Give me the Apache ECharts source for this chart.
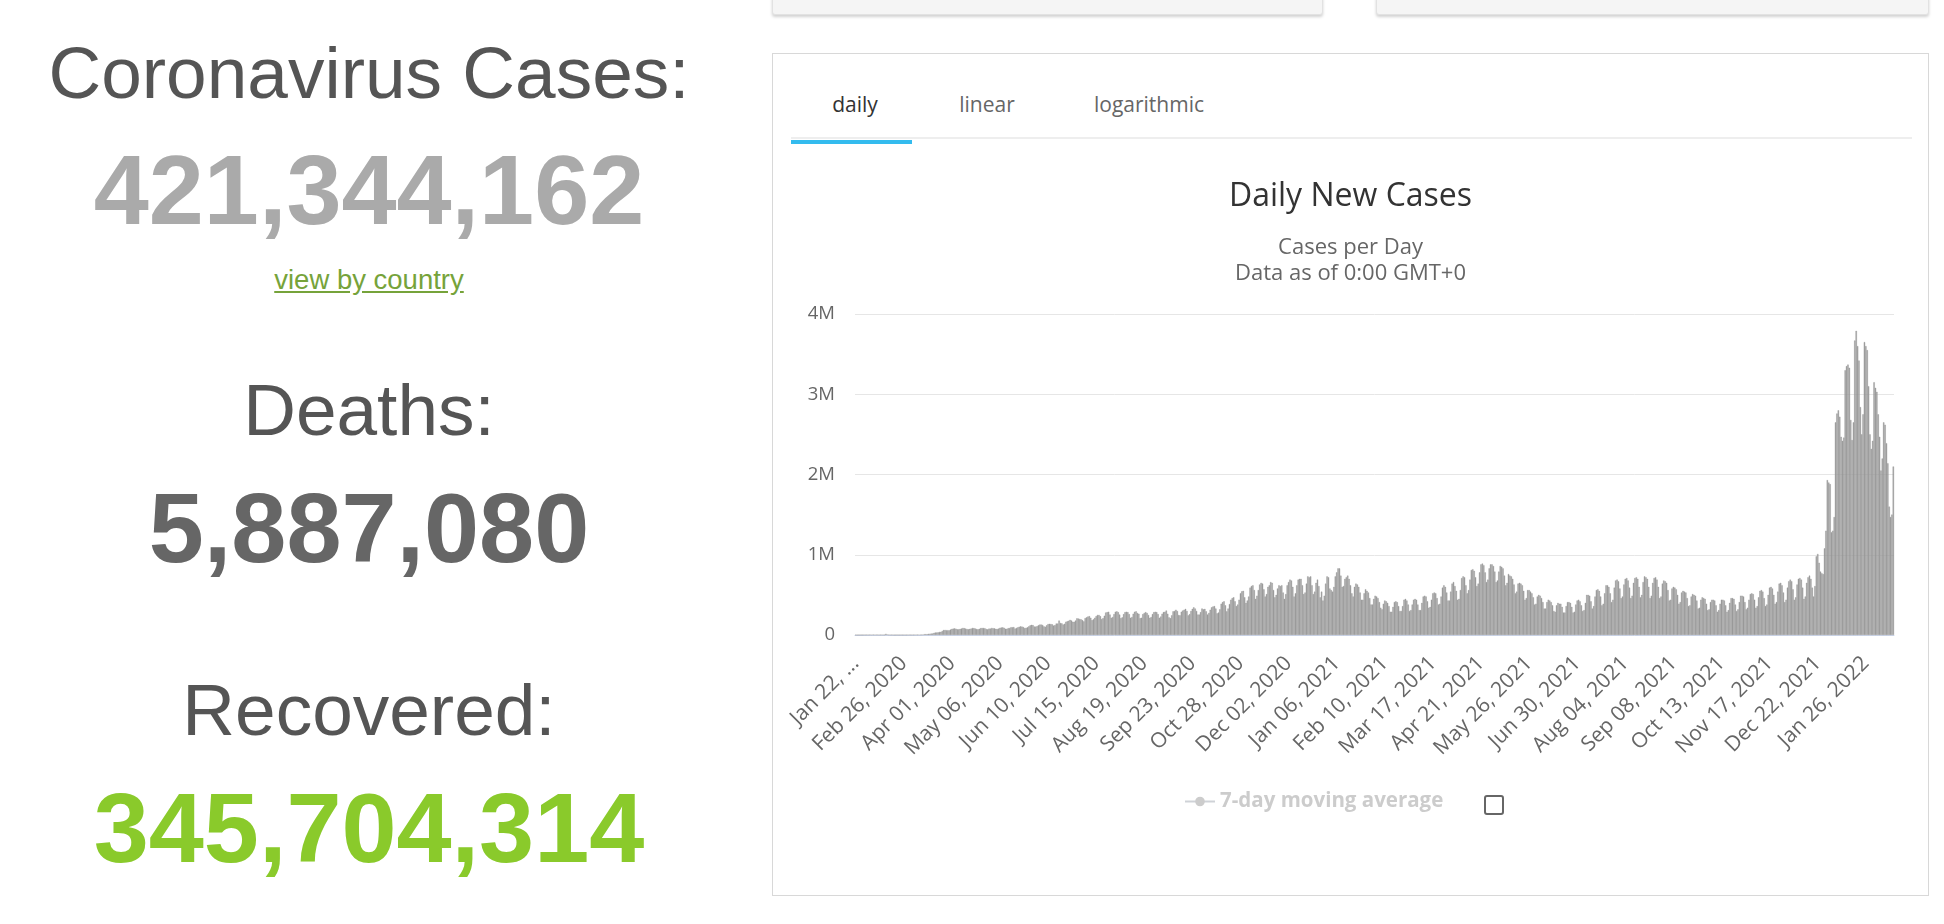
<!DOCTYPE html>
<html>
<head>
<meta charset="utf-8">
<script src="https://cdn.jsdelivr.net/npm/echarts@6/dist/echarts.min.js"></script>
<style>
html,body{margin:0;padding:0;background:#fff;width:1944px;height:924px;overflow:hidden;position:relative;font-family:"Liberation Sans",Arial,sans-serif;}
.stat{position:absolute;left:0;width:738px;text-align:center;white-space:nowrap;line-height:1;}
.lbl{font-size:73px;color:#555;}
.num{font-size:99px;font-weight:bold;}
.link{font-size:27.5px;color:#76a33a;text-decoration:underline;}
.topbox{position:absolute;top:-4px;height:19px;background:#f5f5f5;border:1px solid #e2e2e2;border-radius:0 0 3px 3px;box-shadow:0 2px 3px rgba(0,0,0,0.18);box-sizing:border-box;}
#box{position:absolute;left:772px;top:53px;width:1157px;height:843px;border:1px solid #d8d8d8;box-sizing:border-box;}
.tab{position:absolute;top:91px;width:200px;text-align:center;font-family:"Open Sans",sans-serif;font-size:21px;line-height:24px;color:#666;}
#chart{position:absolute;left:773px;top:146px;width:1155px;height:748px;}
#cb{position:absolute;left:1484px;top:795px;width:20px;height:20px;border:2px solid #666;border-radius:3px;box-sizing:border-box;background:#fff;}
</style>
</head>
<body>
<div class="stat lbl" style="top:36px;">Coronavirus Cases:</div>
<div class="stat num" style="top:140px;color:#aaaaaa;">421,344,162</div>
<div class="stat link" style="top:266px;">view by country</div>
<div class="stat lbl" style="top:373px;">Deaths:</div>
<div class="stat num" style="top:478px;color:#666666;">5,887,080</div>
<div class="stat lbl" style="top:673px;">Recovered:</div>
<div class="stat num" style="top:778px;color:#8aca2b;">345,704,314</div>

<div class="topbox" style="left:772px;width:551px;"></div>
<div class="topbox" style="left:1376px;width:553px;"></div>

<div id="box"></div>
<div class="tab" style="left:755px;top:92px;color:#333;">daily</div>
<div class="tab" style="left:887px;top:92px;">linear</div>
<div class="tab" style="left:1049px;top:92px;">logarithmic</div>
<div style="position:absolute;left:791px;top:137px;width:1121px;height:2px;background:#eeeeee;"></div>
<div style="position:absolute;left:791px;top:140px;width:121px;height:4px;background:#33bbee;"></div>

<div id="chart"></div>
<div id="cb"></div>

<script>
// ---- data (daily new cases, in thousands) — one row per week, starting Wed Jan 22, 2020 ----
const startDate = [2020, 0, 22];
const dailyNewCasesK = [
  0.6, 0.1, 0.3, 0.5, 0.7, 0.8, 1.7,
  1.7, 2.0, 2.1, 2.6, 2.8, 3.2, 3.9,
  3.7, 3.2, 3.4, 2.7, 3.0, 2.5, 2.0,
  2.0, 15.1, 6.5, 2.6, 2.1, 2.0, 1.9,
  0.5, 0.6, 1.0, 1.0, 0.6, 0.9, 0.9,
  1.2, 1.4, 1.8, 1.9, 2.0, 1.9, 2.4,
  2.6, 2.8, 4.0, 3.8, 3.9, 3.9, 4.5,
  7.0, 10, 10.5, 11, 14, 16.5, 17,
  19, 26, 31, 32, 33, 38, 40,
  50, 62, 63, 60, 60, 58, 67,
  76, 79, 82, 78, 71, 72, 76,
  80, 88, 86, 79, 74, 72, 76,
  80, 88, 86, 81, 74, 71, 77,
  86, 88, 87, 85, 75, 70, 79,
  79, 88, 85, 82, 77, 74, 80,
  90, 94, 95, 90, 78, 78, 86,
  88, 97, 97, 99, 80, 88, 95,
  103, 107, 104, 99, 86, 90, 96,
  108, 120, 126, 123, 106, 104, 110,
  122, 130, 130, 125, 107, 103, 121,
  136, 139, 137, 133, 117, 123, 143,
  143, 180, 150, 145, 130, 140, 166,
  172, 178, 189, 180, 165, 165, 180,
  208, 205, 200, 195, 185, 170, 210,
  220, 230, 235, 215, 185, 195, 215,
  235, 250, 250, 235, 200, 210, 240,
  280, 285, 290, 255, 215, 225, 260,
  290, 295, 285, 255, 210, 220, 260,
  285, 290, 285, 260, 215, 225, 265,
  290, 295, 275, 265, 210, 215, 260,
  275, 285, 275, 250, 215, 225, 260,
  285, 290, 285, 260, 215, 230, 265,
  285, 290, 305, 265, 220, 210, 245,
  295, 300, 315, 300, 250, 245, 290,
  305, 315, 325, 300, 245, 260, 300,
  325, 345, 330, 300, 255, 255, 285,
  330, 320, 325, 295, 255, 275, 315,
  345, 355, 360, 330, 270, 280, 320,
  390, 410, 420, 370, 295, 330, 385,
  440, 460, 470, 420, 360, 380, 440,
  520, 545, 550, 470, 400, 430, 480,
  590, 610, 620, 560, 450, 490, 560,
  630, 650, 640, 570, 480, 510, 600,
  620, 660, 650, 560, 470, 500, 580,
  620, 610, 620, 530, 450, 510, 620,
  660, 690, 680, 600, 480, 520, 620,
  690, 700, 700, 620, 510, 530, 640,
  730, 720, 730, 620, 510, 540, 650,
  690, 610, 470, 540, 430, 490, 640,
  730, 720, 580, 560, 540, 600, 730,
  780, 830, 830, 740, 600, 610, 700,
  720, 740, 700, 620, 520, 480, 600,
  640, 630, 600, 530, 440, 440, 520,
  570, 550, 530, 460, 380, 380, 450,
  490, 480, 460, 410, 340, 320, 390,
  430, 420, 400, 360, 290, 290, 350,
  410, 420, 410, 360, 300, 300, 360,
  440, 450, 430, 380, 300, 310, 380,
  440, 450, 440, 380, 310, 310, 400,
  480, 490, 480, 420, 340, 350, 440,
  520, 530, 520, 460, 380, 390, 480,
  590, 620, 600, 530, 430, 430, 540,
  640, 660, 610, 550, 440, 450, 560,
  710, 730, 720, 620, 520, 560, 690,
  810, 820, 800, 720, 610, 640, 780,
  880, 890, 870, 780, 660, 690, 830,
  880, 880, 860, 790, 660, 680, 790,
  860, 850, 830, 740, 620, 650, 760,
  740, 730, 700, 630, 520, 540, 640,
  650, 640, 620, 550, 440, 460, 560,
  560, 540, 520, 470, 380, 390, 480,
  500, 490, 460, 410, 330, 330, 410,
  440, 430, 410, 370, 300, 290, 370,
  400, 390, 390, 350, 280, 280, 360,
  410, 410, 400, 350, 280, 290, 380,
  430, 440, 420, 370, 300, 310, 400,
  500, 500, 490, 420, 330, 360, 480,
  560, 570, 550, 480, 370, 390, 520,
  620, 620, 600, 520, 410, 440, 590,
  680, 690, 670, 580, 460, 480, 630,
  700, 710, 680, 590, 460, 490, 650,
  710, 720, 700, 600, 470, 500, 660,
  730, 720, 700, 600, 460, 490, 650,
  710, 720, 690, 600, 460, 480, 640,
  680, 670, 650, 560, 430, 440, 580,
  600, 590, 570, 500, 390, 410, 530,
  550, 540, 530, 460, 360, 370, 480,
  510, 500, 490, 430, 330, 340, 440,
  470, 460, 450, 390, 310, 320, 410,
  440, 440, 430, 370, 290, 310, 390,
  440, 440, 430, 370, 290, 310, 400,
  460, 460, 450, 380, 300, 320, 410,
  490, 490, 480, 410, 320, 340, 440,
  510, 520, 510, 440, 340, 360, 470,
  550, 560, 540, 460, 360, 380, 500,
  590, 600, 580, 500, 390, 410, 540,
  640, 650, 620, 530, 410, 440, 590,
  670, 690, 670, 570, 440, 470, 630,
  700, 710, 690, 590, 450, 480, 650,
  720, 740, 700, 590, 480, 610, 980,
  1010, 900, 790, 770, 760, 1080, 1300,
  1930, 1900, 1880, 1280, 1300, 1470, 2650,
  2760, 2800, 2720, 2470, 2420, 2460, 3300,
  3350, 3370, 3330, 2680, 2430, 2650, 3670,
  3790, 3600, 3420, 2840, 2500, 2750, 3650,
  3600, 3550, 3100, 2500, 2320, 2420, 3150,
  3080, 3030, 2750, 2470, 2050, 2200, 2650,
  2620, 2390, 2140, 1600, 1470, 1500, 2100
];
const yTickLabels = ['0', '1M', '2M', '3M', '4M'];
const monthNames = ['Jan','Feb','Mar','Apr','May','Jun','Jul','Aug','Sep','Oct','Nov','Dec'];
const seriesNames = ['Daily Cases', '7-day moving average'];

// category labels: one date per data point
const categories = dailyNewCasesK.map(function (_, i) {
  const d = new Date(Date.UTC(startDate[0], startDate[1], startDate[2] + i));
  const dd = String(d.getUTCDate()).padStart(2, '0');
  return monthNames[d.getUTCMonth()] + ' ' + dd + ', ' + d.getUTCFullYear();
});

const chart = echarts.init(document.getElementById('chart'));
const font = '"Open Sans", sans-serif';
chart.setOption({
  animation: false,
  title: [
    { text: 'Daily New Cases', left: 'center', top: 30,
      textStyle: { fontFamily: font, fontSize: 32, fontWeight: 'normal', color: '#333333' } },
    { text: 'Cases per Day\nData as of 0:00 GMT+0', left: 'center', top: 84,
      textStyle: { fontFamily: font, fontSize: 22, fontWeight: 'normal', color: '#666666', lineHeight: 26 } }
  ],
  legend: {
    data: [seriesNames[1]],
    left: 406, top: 640,
    selected: { '7-day moving average': false },
    inactiveColor: '#cccccc',
    itemWidth: 30, itemHeight: 12,
    textStyle: { fontFamily: font, fontSize: 20.5, fontWeight: 'bold', color: '#333333' }
  },
  grid: { left: 82, right: 34, top: 168, bottom: 259, containLabel: false },
  xAxis: {
    type: 'category',
    data: categories,
    boundaryGap: true,
    axisLine: { lineStyle: { color: '#ccd6eb' } },
    axisTick: { show: false },
    axisLabel: {
      interval: 34, rotate: 45, margin: 25, fontFamily: font, fontSize: 21, color: '#666666',
      formatter: function (v, i) { return i === 0 ? v.slice(0, 7) + ' ...' : v; }
    }
  },
  yAxis: {
    type: 'value', min: 0, max: 4000, interval: 1000,
    axisLine: { show: false }, axisTick: { show: false },
    splitLine: { lineStyle: { color: '#e6e6e6', width: 1 } },
    axisLabel: { margin: 20, fontFamily: font, fontSize: 18.5, color: '#666666',
      formatter: function (v) { return yTickLabels[Math.round(v / 1000)]; } }
  },
  series: [
    { name: seriesNames[0], type: 'bar', data: dailyNewCasesK, barCategoryGap: '0%',
      itemStyle: { color: '#999999', borderColor: '#999999', borderWidth: 0.4 } },
    { name: seriesNames[1], type: 'line', data: [], symbol: 'circle', symbolSize: 9,
      lineStyle: { width: 3 }, itemStyle: { color: '#ff9900' } }
  ]
});
</script>
</body>
</html>
